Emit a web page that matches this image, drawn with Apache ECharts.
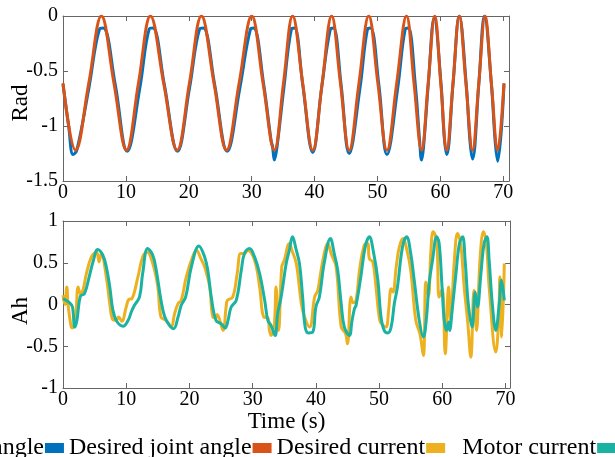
<!DOCTYPE html>
<html>
<head>
<meta charset="utf-8">
<script src="https://cdn.jsdelivr.net/npm/echarts@6/dist/echarts.min.js"></script>
<style>
html, body { margin: 0; padding: 0; background: #fff; }
#chart { width: 615px; height: 457px; }
</style>
</head>
<body>
<div id="chart"></div>
<script>
// top panel (Rad), [time, value]
const angleBlue = [
  [0, -0.62], [0.9, -1.0], [1.6, -1.26], [2.2, -1.22], [4.1, -0.66], [5.8, -0.12], [6.4, -0.11],
  [8.3, -0.62], [10.2, -1.23], [12.2, -0.66], [13.7, -0.12], [14.3, -0.11],
  [16.1, -0.62], [18.2, -1.23], [20.1, -0.66], [21.7, -0.12], [22.3, -0.11],
  [24.1, -0.62], [26.1, -1.23], [28.1, -0.66], [29.8, -0.12], [30.3, -0.11],
  [31.9, -0.62], [33.1, -1.14], [33.3, -1.18], [33.6, -1.31], [34.0, -1.2], [35.1, -0.66], [36.3, -0.12], [36.8, -0.11],
  [38.1, -0.62], [39.7, -1.24], [41.1, -0.66], [42.5, -0.12], [43.0, -0.11],
  [44.2, -0.62], [45.5, -1.25], [47.2, -0.66], [48.4, -0.12], [48.9, -0.11],
  [50.2, -0.62], [51.5, -1.26], [53.2, -0.66], [54.4, -0.12], [54.9, -0.11],
  [56.0, -0.62], [56.7, -1.14], [57.0, -1.31], [57.3, -1.2], [58.1, -0.6], [59.0, -0.02],
  [60.1, -0.62], [60.6, -1.1], [61.0, -1.26], [62.0, -0.62], [63.0, 0],
  [64.1, -0.62], [64.7, -1.14], [65.1, -1.30], [66.1, -0.62], [67.0, 0],
  [68.1, -0.62], [68.7, -1.14], [69.1, -1.32], [70.1, -0.62]
];
const angleRed = [
  [0, -0.61], [2.0, -1.22], [4.1, -0.61], [6.1, 0], [8.1, -0.61], [10.1, -1.22], [12.0, -0.61], [13.9, 0],
  [16.0, -0.61], [18.15, -1.22], [20.1, -0.61], [22.0, 0], [24.0, -0.61], [26.0, -1.22], [28.0, -0.61], [30.0, 0],
  [31.8, -0.61], [33.6, -1.22], [35.05, -0.61], [36.5, 0], [38.1, -0.61], [39.7, -1.22], [41.2, -0.61], [42.7, 0],
  [44.1, -0.61], [45.5, -1.22], [47.05, -0.61], [48.6, 0], [50.05, -0.61], [51.5, -1.22], [53.05, -0.61], [54.6, 0],
  [55.8, -0.61], [57.0, -1.22], [58.05, -0.61], [59.1, 0], [60.05, -0.61], [61.0, -1.22], [62.0, -0.61], [63.0, 0],
  [64.05, -0.61], [65.1, -1.22], [66.1, -0.61], [67.1, 0], [68.1, -0.61], [69.1, -1.22], [70.1, -0.61]
];

// bottom panel (Ah), [time, value]
const currentYellow = [
  [0, 0.11], [0.3, 0.0], [0.6, 0.21], [0.8, 0.0], [1.3, -0.27], [1.5, -0.28], [2.0, -0.13], [2.4, 0.21], [2.75, 0.13],
  [3.15, 0.17], [3.7, 0.37], [4.5, 0.57], [5.3, 0.63], [5.7, 0.51], [6.05, 0.61], [6.85, 0.33], [7.4, 0.01],
  [7.8, -0.17], [8.4, -0.19], [8.8, -0.15], [9.3, -0.2], [10.0, -0.03], [10.4, 0.06], [10.9, 0.07], [11.85, 0.33],
  [12.6, 0.57], [13.3, 0.63], [14.2, 0.49], [15.0, 0.21], [15.5, -0.15], [16.3, -0.19], [17.1, -0.27], [17.65, -0.11],
  [18.2, 0.01], [18.7, 0.05], [19.5, 0.33], [20.5, 0.57], [21.1, 0.65], [21.8, 0.55], [22.4, 0.45], [23.2, 0.21],
  [23.7, -0.15], [24.2, -0.16], [24.4, -0.12], [25.3, -0.31], [25.8, -0.03], [26.0, 0.05], [26.85, 0.09],
  [27.55, 0.37], [28.1, 0.61], [28.7, 0.61], [29.2, 0.65], [30.3, 0.53], [31.1, 0.21], [31.75, -0.15], [32.4, -0.16],
  [32.65, -0.31], [32.9, -0.37], [33.4, -0.27], [33.7, 0.21], [34.1, -0.31], [34.6, 0.45], [35.0, 0.53],
  [35.8, 0.73], [36.2, 0.65], [36.9, 0.49], [37.7, 0.01], [38.2, -0.15], [39.0, -0.27], [39.8, 0.09], [40.3, 0.17],
  [41.1, 0.53], [41.9, 0.73], [42.4, 0.61], [43.2, 0.45], [44.0, -0.27], [44.7, -0.35], [45.0, -0.47], [45.55, 0.09],
  [45.9, 0.02], [46.35, 0.05], [46.9, 0.41], [47.65, 0.71], [48.2, 0.73], [48.45, 0.55], [49.0, 0.51], [49.5, 0.21],
  [50.1, -0.19], [50.6, -0.25], [51.1, -0.27], [51.5, -0.07], [51.9, 0.19], [52.2, 0.15], [52.7, 0.45], [53.2, 0.69],
  [53.8, 0.79], [54.4, 0.65], [55.0, 0.41], [55.8, -0.19], [56.45, -0.35], [57.0, -0.61], [57.4, 0.27], [57.8, 0.1],
  [58.2, 0.65], [58.55, 0.87], [59.1, 0.77], [59.5, 0.09], [60.0, 0.19], [60.45, -0.59], [61.0, 0.21], [61.3, -0.19],
  [61.9, 0.53], [62.4, 0.85], [62.9, 0.73], [63.45, 0.21], [64.0, -0.2], [64.5, -0.63], [65.0, 0.17], [65.4, -0.31],
  [65.95, 0.53], [66.5, 0.87], [67.0, 0.69], [67.4, 0.21], [68.45, -0.57], [68.9, -0.19], [69.1, 0.33], [69.4, -0.39],
  [69.8, 0.49]
];
const currentTeal = [
  [0, 0.07], [1.06, 0.02], [1.5, -0.03], [1.85, -0.27], [2.2, -0.19], [2.75, 0.10], [3.4, 0.13], [4.2, 0.35],
  [4.75, 0.51], [5.5, 0.66], [6.3, 0.59], [6.85, 0.45], [7.4, 0.21], [7.9, -0.07], [8.5, -0.20], [9.5, -0.26],
  [10.3, -0.19], [10.8, -0.09], [11.3, -0.01], [12.1, 0.09], [12.6, 0.37], [13.4, 0.67], [14.2, 0.59], [14.75, 0.41],
  [15.5, 0.05], [16.1, -0.15], [16.85, -0.25], [17.5, -0.29], [18.2, -0.15], [18.7, -0.01], [19.4, 0.09], [20.3, 0.45],
  [21.5, 0.70], [22.4, 0.57], [22.9, 0.41], [23.45, 0.09], [24.2, -0.19], [25.0, -0.23], [25.65, -0.28], [26.1, -0.19],
  [26.6, -0.03], [27.4, 0.05], [28.2, 0.41], [28.7, 0.61], [29.5, 0.67], [30.3, 0.57], [31.1, 0.37], [31.9, 0.05],
  [32.4, -0.19], [32.9, -0.25], [33.55, -0.37], [33.95, -0.11], [34.4, 0.05], [34.75, 0.21], [35.3, 0.49], [35.8, 0.65],
  [36.3, 0.81], [36.9, 0.65], [37.4, 0.49], [37.9, 0.09], [38.3, -0.27], [38.8, -0.34], [39.5, -0.33], [40.0, -0.03],
  [40.55, 0.09], [41.3, 0.49], [42.3, 0.79], [42.9, 0.61], [43.45, 0.41], [44.0, 0.01], [44.5, -0.27], [45.3, -0.37],
  [45.7, -0.2], [46.1, -0.05], [46.35, -0.01], [47.1, 0.33], [47.8, 0.69], [48.45, 0.81], [49.1, 0.63], [49.8, 0.29],
  [50.3, -0.15], [50.8, -0.31], [51.35, -0.34], [51.9, -0.27], [52.4, 0.01], [52.9, 0.21], [53.7, 0.69], [54.35, 0.81],
  [55.0, 0.61], [55.55, 0.29], [56.35, -0.19], [57.0, -0.39], [57.5, -0.15], [57.9, 0.25], [58.45, 0.53], [59.1, 0.81],
  [59.5, 0.73], [59.95, 0.21], [60.3, -0.19], [60.65, -0.31], [61.0, -0.21], [61.15, -0.31], [61.6, -0.03], [62.15, 0.37],
  [62.7, 0.73], [63.2, 0.81], [63.6, 0.53], [64.1, 0.01], [64.7, -0.27], [65.2, 0.15], [65.55, -0.03], [66.1, 0.37],
  [66.6, 0.73], [67.05, 0.81], [67.4, 0.53], [67.9, 0.01], [68.45, -0.31], [69.0, 0.01], [69.35, 0.29], [69.8, 0.05]
];

const legendNames = ['Actual joint angle', 'Desired joint angle', 'Desired current', 'Motor current', 'Actual current'];

const FONT = 'Liberation Serif';
const AXIS_COLOR = '#666';

function xAx(grid, pos, max, labels) {
  return {
    type: 'value', gridIndex: grid, position: pos, min: 0, max: max, interval: 10,
    axisLine: { show: true, onZero: false, lineStyle: { color: AXIS_COLOR, width: 1 } },
    axisTick: { show: true, inside: true, length: 5, lineStyle: { color: AXIS_COLOR } },
    axisLabel: { show: labels, margin: 2, color: '#000', fontFamily: FONT, fontSize: 20 },
    splitLine: { show: false }
  };
}
function yAx(grid, pos, min, max, labels) {
  return {
    type: 'value', gridIndex: grid, position: pos, min: min, max: max, interval: 0.5,
    axisLine: { show: true, onZero: false, lineStyle: { color: AXIS_COLOR, width: 1 } },
    axisTick: { show: true, inside: true, length: 5, lineStyle: { color: AXIS_COLOR } },
    axisLabel: { show: labels, margin: 5, color: '#000', fontFamily: FONT, fontSize: 20 },
    splitLine: { show: false }
  };
}
function line(name, data, color, xi, yi) {
  return {
    name: name, type: 'line', data: data, xAxisIndex: xi, yAxisIndex: yi,
    smooth: 0.4, showSymbol: false, color: color,
    lineStyle: { color: color, width: 3 }
  };
}

const chart = echarts.init(document.getElementById('chart'));

const xAll = [xAx(0, 'bottom', 70.9, true), xAx(0, 'top', 70.9, false),
              xAx(1, 'bottom', 70.7, true), xAx(1, 'top', 70.7, false)];
xAll[2].name = 'Time (s)';
xAll[2].nameLocation = 'middle';
xAll[2].nameGap = 22;
xAll[2].nameMoveOverlap = false;
xAll[2].nameTextStyle = { fontFamily: FONT, fontSize: 23, color: '#000' };

const yAll = [yAx(0, 'left', -1.5, 0, true), yAx(0, 'right', -1.5, 0, false),
              yAx(1, 'left', -1, 1, true), yAx(1, 'right', -1, 1, false)];
yAll[0].name = 'Rad';
yAll[0].nameLocation = 'middle';
yAll[0].nameGap = 31;
yAll[0].nameMoveOverlap = false;
yAll[0].nameTextStyle = { fontFamily: FONT, fontSize: 23, color: '#000', padding: [0, 9, 0, 0] };
yAll[2].name = 'Ah';
yAll[2].nameLocation = 'middle';
yAll[2].nameGap = 31;
yAll[2].nameMoveOverlap = false;
yAll[2].nameTextStyle = { fontFamily: FONT, fontSize: 23, color: '#000', padding: [0, 13, 0, 0] };

chart.setOption({
  animation: false,
  backgroundColor: '#fff',
  grid: [
    { left: 63, top: 16, width: 446, height: 165, containLabel: false, outerBoundsMode: 'none' },
    { left: 63, top: 221, width: 447, height: 167, containLabel: false, outerBoundsMode: 'none' }
  ],
  xAxis: xAll,
  yAxis: yAll,
  legend: {
    data: legendNames,
    left: -157, top: 431, width: 1400,
    orient: 'horizontal',
    icon: 'rect', itemWidth: 19, itemHeight: 10, itemGap: 1,
    formatter: function (n) { return n === 'Motor current' ? '\u00a0\u00a0' + n : n; },
    textStyle: { fontFamily: FONT, fontSize: 24, color: '#000' }
  },
  series: [
    line(legendNames[0], [], '#7E2F8E', 0, 0),
    line(legendNames[1], angleBlue, '#0072BD', 0, 0),
    line(legendNames[2], angleRed, '#D95319', 0, 0),
    line(legendNames[3], currentYellow, '#EDB120', 2, 2),
    line(legendNames[4], currentTeal, '#1AB3A3', 2, 2)
  ]
});
</script>
</body>
</html>
